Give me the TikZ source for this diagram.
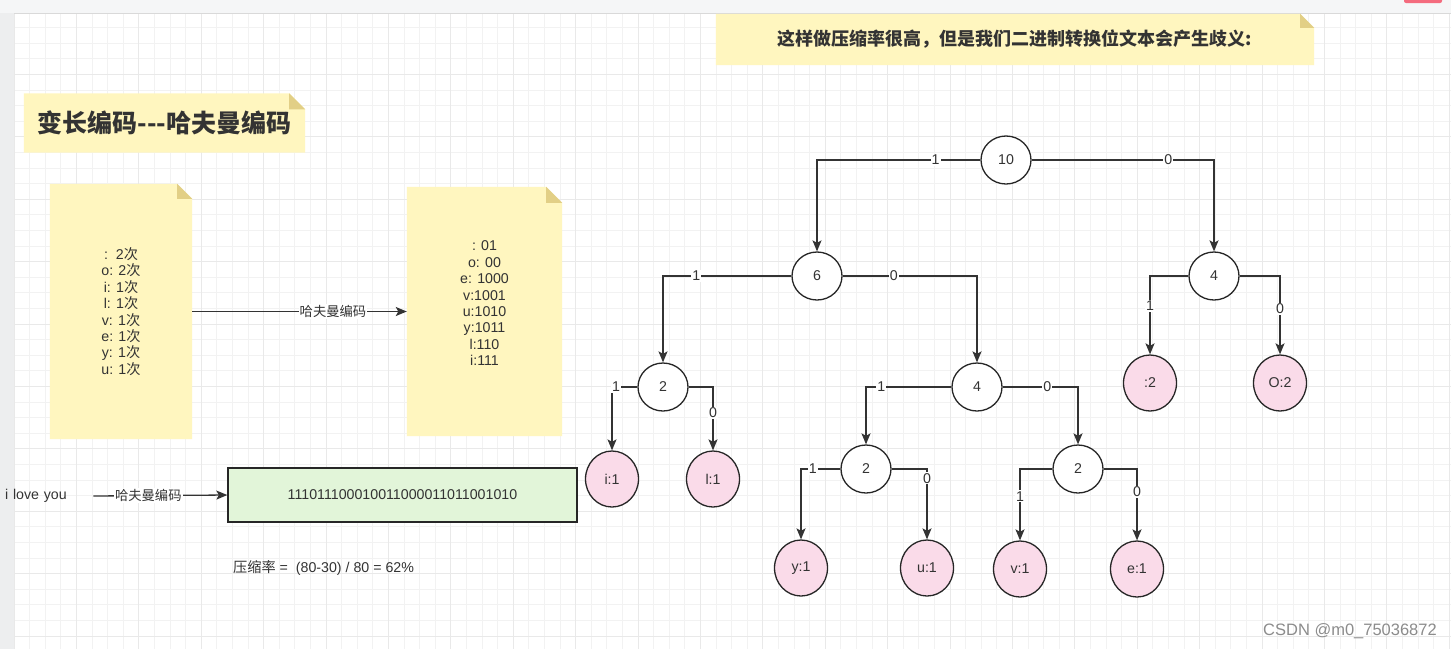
\documentclass[tikz,border=0pt]{standalone}
\usepackage{fontspec}
\setmainfont{Liberation Sans}
\newfontfamily\cjk{Noto Sans CJK SC}
\newcommand\zh[1]{{\cjk #1}}
\usetikzlibrary{shapes.geometric,arrows.meta}
\pgfdeclarelayer{gridlayer}
\pgfdeclarelayer{bglayer}
\pgfsetlayers{gridlayer,bglayer,main}
\definecolor{txt}{HTML}{333333}
\definecolor{notey}{HTML}{FFF6BF}
\definecolor{foldy}{HTML}{E2CF86}
\definecolor{greenf}{HTML}{E2F5D9}
\definecolor{pinkf}{HTML}{FADBE9}
\definecolor{gridc}{HTML}{F2F2F2}
\definecolor{gridm}{HTML}{E9E9E9}
\definecolor{topbar}{HTML}{F5F6F7}
\definecolor{sidebar}{HTML}{EDEEEF}
\definecolor{redbtn}{HTML}{F46B7E}
\newcommand\notefill[2]{%
  \begin{pgfonlayer}{bglayer}
    \fill[notey] (#1.south west) -- (#1.north west) -- ([xshift=-#2]#1.north east)
      -- ([yshift=-#2]#1.north east) -- (#1.south east) -- cycle;
    \fill[foldy] ([xshift=-#2]#1.north east) -- ([xshift=-#2,yshift=-#2]#1.north east)
      -- ([yshift=-#2]#1.north east) -- cycle;
  \end{pgfonlayer}}
\begin{document}
\begin{tikzpicture}[x=1pt,y=-1pt,
  every node/.style={text=txt, font=\fontsize{14.2}{16.4}\selectfont},
  inode/.style={ellipse, draw=black!85, line width=1.3pt, fill=white,
    minimum width=50pt, minimum height=48pt, inner sep=0},
  leaf/.style={ellipse, draw=black!85, line width=1.3pt, fill=pinkf,
    minimum width=53pt, minimum height=56pt, inner sep=0},
  edge/.style={draw=black!80, line width=1.3pt,
    -{Stealth[length=11pt,width=9pt,inset=2.5pt]}},
  lbl/.style={fill=white, inner sep=1pt},
  notebox/.style={inner sep=0, align=center},
  zhlbl/.style={lbl, font=\cjk\fontsize{13.3}{16}\selectfont},
]
\useasboundingbox (0,0) rectangle (1451,649);
\begin{pgfonlayer}{gridlayer}
  \fill[white] (0,0) rectangle (1451,649);
  \foreach \i in {0,...,92} {\draw[gridc, line width=0.8pt] ({14+15.6*\i},13) -- ({14+15.6*\i},649);}
  \foreach \j in {0,...,41} {\draw[gridc, line width=0.8pt] (14,{12+15.6*\j}) -- (1451,{12+15.6*\j});}
  \foreach \i in {0,4,...,92} {\draw[gridm, line width=1pt] ({14+15.6*\i},13) -- ({14+15.6*\i},649);}
  \foreach \j in {0,4,...,40} {\draw[gridm, line width=1pt] (14,{12+15.6*\j}) -- (1451,{12+15.6*\j});}
  \fill[topbar] (0,0) rectangle (1451,13);
  \draw[black!15, line width=0.8pt] (0,13) -- (1451,13);
  \fill[sidebar] (0,13) rectangle (14,649);
  \fill[redbtn, rounded corners=2pt] (1404,-5) rectangle (1442,3);
\end{pgfonlayer}

% notes
\node[notebox, minimum width=598pt, minimum height=51pt] (warn) at (1015,39.5)
  {\cjk\bfseries\fontsize{18}{20}\selectfont 这样做压缩率很高，但是我们二进制转换位文本会产生歧义:};
\notefill{warn}{14pt}
\node[notebox, minimum width=281pt, minimum height=59pt] (title) at (164.5,123)
  {\cjk\bfseries\fontsize{25}{28}\selectfont 变长编码---哈夫曼编码};
\notefill{title}{16pt}
\node[notebox, minimum width=142pt, minimum height=255pt] (freq) at (121,311.5)
  {:~~2\zh{次}\\o: 2\zh{次}\\i: 1\zh{次}\\l: 1\zh{次}\\v: 1\zh{次}\\e: 1\zh{次}\\y: 1\zh{次}\\u: 1\zh{次}};
\notefill{freq}{15pt}
\node[notebox, minimum width=155pt, minimum height=249pt] (codes) at (484.5,311.5)
  {: 01\\o: 00\\e: 1000\\v:1001\\u:1010\\y:1011\\l:110\\i:111\\\mbox{}};
\notefill{codes}{16pt}
\draw[edge] (freq.east) -- node[zhlbl, pos=0.656]{哈夫曼编码} (codes.west);

% bottom left
\node[inner sep=0, text width=88pt, align=left, anchor=west] (love) at (5,496) {i love you};
\node[draw=black!85, line width=1.3pt, fill=greenf, minimum width=349pt, minimum height=54pt] (bin) at (402.5,495)
  {111011100010011000011011001010};
\draw[edge] (love.east) -- node[zhlbl, pos=0.41]{哈夫曼编码} (bin.west);
\node[anchor=west, inner sep=0] (rate) at (233,568) {\zh{压缩率} =~ (80-30) / 80 = 62\%};

% tree
\node[inode] (n10) at (1006,160) {10};
\node[inode] (n6) at (817,276) {6};
\node[inode] (n4r) at (1214,276) {4};
\node[inode] (n2l) at (663,387) {2};
\node[inode] (n4m) at (977,387) {4};
\node[inode] (n2a) at (866,469) {2};
\node[inode] (n2b) at (1078,469) {2};
\node[leaf] (li) at (612,479) {i:1};
\node[leaf] (ll) at (713,479) {l:1};
\node[leaf] (ly) at (801,568) {y:1};
\node[leaf] (lu) at (927,568) {u:1};
\node[leaf] (lv) at (1020,569) {v:1};
\node[leaf] (le) at (1137,569) {e:1};
\node[leaf] (lsp) at (1150,383) {:2};
\node[leaf] (lo) at (1280,383) {O:2};

\draw[edge] (n10.west) -| node[lbl, pos=0.137]{1} (n6.north);
\draw[edge] (n10.east) -| node[lbl, pos=0.375]{0} (n4r.north);
\draw[edge] (n6.west) -| node[lbl, pos=0.37]{1} (n2l.north);
\draw[edge] (n6.east) -| node[lbl, pos=0.19]{0} (n4m.north);
\draw[edge] (n2l.west) -| node[lbl, pos=0.42]{1} (li.north);
\draw[edge] (n2l.east) -| node[lbl, pos=0.705]{0} (ll.north);
\draw[edge] (n4m.west) -| node[lbl, pos=0.41]{1} (n2a.north);
\draw[edge] (n4m.east) -| node[lbl, pos=0.296]{0} (n2b.north);
\draw[edge] (n2a.west) -| node[lbl, pos=0.35]{1} (ly.north);
\draw[edge] (n2a.east) -| node[lbl, pos=0.567]{0} (lu.north);
\draw[edge] (n2b.west) -| node[lbl, pos=0.69]{1} (lv.north);
\draw[edge] (n2b.east) -| node[lbl, pos=0.66]{0} (le.north);
\draw[edge] (n4r.west) -| node[lbl, pos=0.69]{1} (lsp.north);
\draw[edge] (n4r.east) -| node[lbl, pos=0.71]{0} (lo.north);

\node[anchor=east, inner sep=0, text=black!45, font=\fontsize{16.5}{18}\selectfont] (wm) at (1437,631) {CSDN @m0\_75036872};
\end{tikzpicture}
\end{document}
